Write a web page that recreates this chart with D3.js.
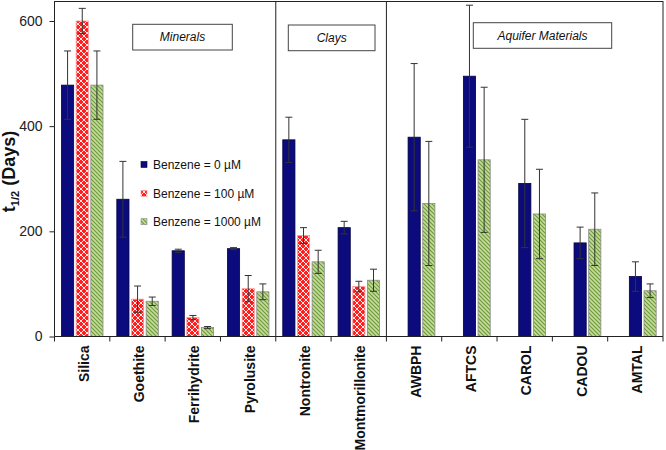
<!DOCTYPE html>
<html>
<head>
<meta charset="utf-8">
<script src="https://cdn.jsdelivr.net/npm/d3@7"></script>
<style>
  html, body { margin: 0; padding: 0; background: #fff; }
  svg { display: block; font-family: "Liberation Sans", Arial, sans-serif; }
</style>
</head>
<body>
<svg id="chart" width="666" height="450"></svg>
<script>
// ---- data ----
const categories = ["Silica","Goethite","Ferrihydrite","Pyrolusite","Nontronite","Montmorillonite","AWBPH","AFTCS","CAROL","CADOU","AMTAL"];
const seriesNames = ["Benzene = 0 \u00b5M","Benzene = 100 \u00b5M","Benzene = 1000 \u00b5M"];
const b0      = [478, 261, 163, 167, 374, 207, 379, 495, 291, 178, 114];
const b0Err   = [ 65,  72,   3,   2,  43,  12, 140, 135, 122,  30,  28];
const b100    = [600,  71,  36,  91, 192,  95, null, null, null, null, null];
const b100Err = [ 24,  25,   4,  25,  15,  10, null, null, null, null, null];
const b1000   = [478,  67,  17,  85, 142, 107, 253, 336, 233, 204,  87];
const b1000Err= [ 65,   8,   2,  15,  22,  21, 118, 138,  85,  69,  13];
const groupNames = ["Minerals","Clays","Aquifer Materials"];
const groupEnds = ["Pyrolusite","Montmorillonite"]; // separators after these
const yTicks = [0, 200, 400, 600];

const svg = d3.select("#chart");
const L = 54.5, R = 663, T = 1, B = 336.5;

const x0 = d3.scaleBand().domain(categories).range([L, R]).padding(0);
const x1 = d3.scaleBand().domain([0,1,2]).range([7, 48.5]).paddingInner(0.17).paddingOuter(0);
const y = d3.scaleLinear().domain([0, 638]).range([B, T]);

// patterns
const defs = svg.append("defs");
const pr = defs.append("pattern").attr("id","pRed").attr("patternUnits","userSpaceOnUse").attr("width",6).attr("height",6);
pr.append("rect").attr("width",6).attr("height",6).attr("fill","#ff1f1f");
pr.append("path").attr("d","M0,0L6,6M6,0L0,6").attr("stroke","#fff").attr("stroke-width",0.9);
const pg = defs.append("pattern").attr("id","pGreen").attr("patternUnits","userSpaceOnUse").attr("width",4).attr("height",4);
pg.append("rect").attr("width",4).attr("height",4).attr("fill","#c6dc9c");
pg.append("path").attr("d","M-1,-1L5,5M-1,3L1,5M3,-1L5,1").attr("stroke","#6e9a3c").attr("stroke-width",1.2);

const fills = ["#0b0b7e","url(#pRed)","url(#pGreen)"];
const strokes = ["#000040","#ff9a9a","#8a8a8a"];

// bars
const bars = [];
categories.forEach((c,i) => {
  const has100 = b100[i] != null;
  const vals = [[b0[i],b0Err[i]],[b100[i],b100Err[i]],[b1000[i],b1000Err[i]]];
  vals.forEach((v,s) => {
    if (v[0] == null) return;
    let slot = s;
    if (s === 0 && !has100) slot = 1;
    bars.push({c, s, slot, v: v[0], e: v[1]});
  });
});

const g = svg.append("g");
g.selectAll("rect.bar").data(bars).join("rect")
  .attr("class","bar")
  .attr("x", d => x0(d.c) + x1(d.slot))
  .attr("width", x1.bandwidth())
  .attr("y", d => y(d.v))
  .attr("height", d => y(0) - y(d.v))
  .attr("fill", d => fills[d.s])
  .attr("stroke", d => strokes[d.s])
  .attr("stroke-width", 0.8);

// error bars
const eg = svg.append("g").attr("stroke","#333").attr("stroke-width",1);
bars.forEach(d => {
  const cx = x0(d.c) + x1(d.slot) + x1.bandwidth()/2;
  const y1 = y(d.v + d.e), y2 = y(Math.max(0, d.v - d.e));
  eg.append("line").attr("x1",cx).attr("x2",cx).attr("y1",y1).attr("y2",y2);
  eg.append("line").attr("x1",cx-3.5).attr("x2",cx+3.5).attr("y1",y1).attr("y2",y1);
  eg.append("line").attr("x1",cx-3.5).attr("x2",cx+3.5).attr("y1",y2).attr("y2",y2);
});

// frame
const fr = svg.append("g").attr("stroke","#222").attr("stroke-width",1).attr("fill","none");
fr.append("line").attr("x1",L).attr("x2",R).attr("y1",T+0.5).attr("y2",T+0.5);
fr.append("line").attr("x1",R).attr("x2",R).attr("y1",T).attr("y2",B);
groupEnds.forEach(c => {
  const xx = x0(c) + x0.bandwidth();
  fr.append("line").attr("x1",xx).attr("x2",xx).attr("y1",T).attr("y2",B);
});

// y axis
const ya = svg.append("g").attr("transform",`translate(${L},0)`)
  .call(d3.axisLeft(y).tickValues(yTicks).tickSize(5).tickPadding(7).tickFormat(d3.format("d")));
ya.select(".domain").attr("stroke","#222").attr("d",`M0,${T}V${B}`);
ya.selectAll(".tick line").attr("stroke","#222");
ya.selectAll(".tick text").attr("font-size",14).attr("fill","#222").attr("font-family","Liberation Sans, Arial, sans-serif");

// x axis
const xa = svg.append("g").attr("transform",`translate(0,${B})`);
xa.append("line").attr("x1",L).attr("x2",R).attr("stroke","#222");
const bounds = categories.map(c => x0(c)).concat([R]);
xa.selectAll("line.tk").data(bounds).join("line").attr("class","tk")
  .attr("x1",d=>d).attr("x2",d=>d).attr("y1",0).attr("y2",5).attr("stroke","#222");
xa.selectAll("text").data(categories).join("text")
  .attr("transform", d => `translate(${x0(d)+x0.bandwidth()/2+6.5},${9}) rotate(-90)`)
  .attr("text-anchor","end")
  .attr("font-size",14).attr("font-weight","bold").attr("fill","#111")
  .text(d => d);

// y title
const yt = svg.append("text")
  .attr("transform","translate(15,171.5) rotate(-90)")
  .attr("text-anchor","middle").attr("font-size",18).attr("font-weight","bold").attr("fill","#111");
yt.append("tspan").text("t");
yt.append("tspan").attr("font-size",11).attr("dy",4).text("1/2");
yt.append("tspan").attr("dy",-4).text(" (Days)");

// group label boxes
const boxes = [[132.7,24.3,232.3,50],[288.3,25,375,50.7],[473.3,22.7,611.7,48.3]];
groupNames.forEach((n,i) => {
  const b = boxes[i];
  svg.append("rect").attr("x",b[0]).attr("y",b[1]).attr("width",b[2]-b[0]).attr("height",b[3]-b[1])
    .attr("fill","#fff").attr("stroke","#444").attr("stroke-width",1);
  svg.append("text").attr("x",(b[0]+b[2])/2).attr("y",(b[1]+b[3])/2+4.3)
    .attr("text-anchor","middle").attr("font-size",12).attr("font-style","italic").attr("fill","#111").text(n);
});

// legend
const lg = svg.append("g");
const legY = [164.5, 193.3, 221.7];
seriesNames.forEach((n,i) => {
  lg.append("rect").attr("x",141).attr("y",legY[i]-3).attr("width",6).attr("height",6)
    .attr("fill",fills[i]).attr("stroke",strokes[i]).attr("stroke-width",0.6);
  lg.append("text").attr("x",153).attr("y",legY[i]+4.2).attr("font-size",12).attr("fill","#111").text(n);
});
</script>
</body>
</html>
